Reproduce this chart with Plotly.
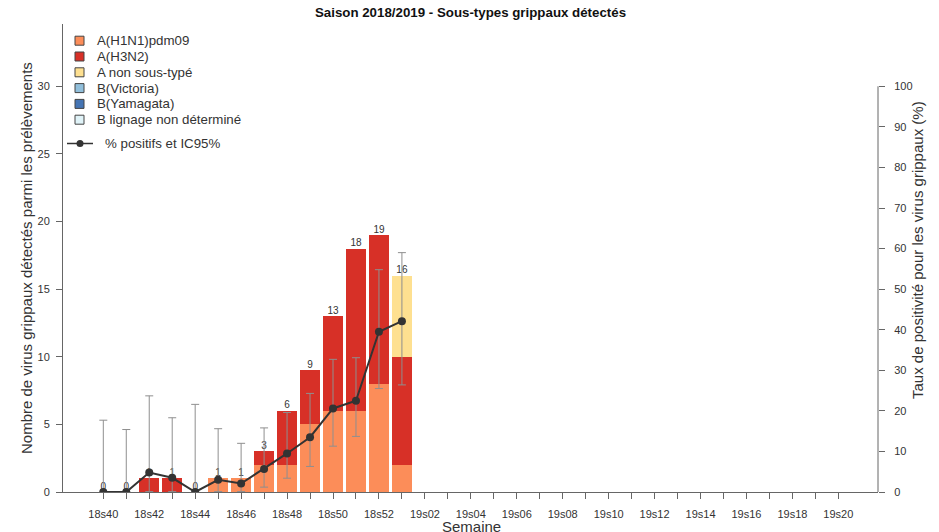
import plotly.graph_objects as go

# ---------------- data ----------------
weeks = [f"18s{w}" for w in range(40, 53)] + [f"19s{w:02d}" for w in range(1, 21)]
tick_labels = [w if i % 2 == 0 else "" for i, w in enumerate(weeks)]

n_obs = 14  # weeks with data (18s40 .. 19s01)
h1n1 = [0, 0, 0, 0, 0, 1, 1, 2, 2, 5, 6, 6, 8, 2]
h3n2 = [0, 0, 1, 1, 0, 0, 0, 1, 4, 4, 7, 12, 11, 8]
a_nst = [0, 0, 0, 0, 0, 0, 0, 0, 0, 0, 0, 0, 0, 6]
b_vic = [0] * 14
b_yam = [0] * 14
b_nd = [0] * 14
totals = [0, 0, 1, 1, 0, 1, 1, 3, 6, 9, 13, 18, 19, 16]

pct_pos = [0, 0, 4.8, 3.5, 0, 3.0, 2.1, 5.7, 9.5, 13.5, 20.6, 22.5, 39.5, 42.1]
ci_low = [0, 0, 0.1, 0.1, 0, 0.1, 0.1, 1.2, 3.4, 6.3, 11.3, 13.7, 25.5, 26.4]
ci_high = [17.7, 15.4, 23.7, 18.3, 21.6, 15.6, 12.0, 15.8, 19.6, 24.3, 32.7, 33.1, 54.8, 59.0]

series_names = ["A(H1N1)pdm09", "A(H3N2)", "A non sous-typé", "B(Victoria)",
                "B(Yamagata)", "B lignage non déterminé"]
series_values = [h1n1, h3n2, a_nst, b_vic, b_yam, b_nd]
series_colors = ["#FC8D59", "#D73027", "#FEE090", "#91BFDB", "#4575B4", "#E0F3F8"]
line_name = "% positifs et IC95%"

# ---------------- layout geometry ----------------
W, H = 939, 532
ML, MR, MT, MB = 63, 61, 24, 40
PW, PH = W - ML - MR, H - MT - MB
FONT = "Liberation Sans, Arial, Helvetica, sans-serif"
AXIS_COL = "#666666"
TXT_COL = "#333333"


def px_x(px):
    return (px - ML) / PW


def px_y(py):
    return (H - MB - py) / PH


fig = go.Figure()

x_obs = weeks[:n_obs]
for name, vals, col in zip(series_names, series_values, series_colors):
    fig.add_trace(go.Bar(x=x_obs, y=vals, name=name, marker=dict(color=col, line=dict(width=0)),
                         showlegend=False, yaxis="y"))

# count labels above bars
fig.add_trace(go.Scatter(x=x_obs, y=totals, mode="text", text=[str(t) for t in totals],
                         textposition="top center", textfont=dict(size=10, color=TXT_COL, family=FONT),
                         showlegend=False, hoverinfo="skip", yaxis="y"))

# confidence intervals
fig.add_trace(go.Scatter(
    x=x_obs, y=pct_pos, mode="markers", marker=dict(size=1, opacity=0), yaxis="y2",
    showlegend=False, hoverinfo="skip",
    error_y=dict(type="data", symmetric=False,
                 array=[h - p for h, p in zip(ci_high, pct_pos)],
                 arrayminus=[p - l for p, l in zip(pct_pos, ci_low)],
                 color="#8f8f8f", thickness=1, width=4)))

# positivity line
fig.add_trace(go.Scatter(x=x_obs, y=pct_pos, mode="lines+markers", name=line_name, yaxis="y2",
                         line=dict(color="#333333", width=2),
                         marker=dict(color="#333333", size=8), showlegend=False))

# ---------------- manual legend ----------------
shapes = []
annotations = []
leg_y0 = 40.7
leg_dy = 15.8
LEG_FS = 13.3
for i, (name, col) in enumerate(zip(series_names, series_colors)):
    cy = leg_y0 + i * leg_dy
    shapes.append(dict(type="rect", xref="paper", yref="paper",
                       x0=px_x(75), x1=px_x(84), y0=px_y(cy - 4.5), y1=px_y(cy + 4.5),
                       fillcolor=col, line=dict(color="#444444", width=1)))
    annotations.append(dict(xref="paper", yref="paper", x=px_x(95), y=px_y(cy), text=name,
                            showarrow=False, xanchor="left", yanchor="middle",
                            font=dict(size=LEG_FS, color=TXT_COL, family=FONT)))
cy = 143.5
shapes.append(dict(type="line", xref="paper", yref="paper", x0=px_x(67), x1=px_x(93),
                   y0=px_y(cy), y1=px_y(cy), line=dict(color="#333333", width=1.5)))
shapes.append(dict(type="circle", xref="paper", yref="paper", x0=px_x(76.5), x1=px_x(83.5),
                   y0=px_y(cy - 3.5), y1=px_y(cy + 3.5), fillcolor="#333333", line=dict(width=0)))
annotations.append(dict(xref="paper", yref="paper", x=px_x(103), y=px_y(cy), text=line_name,
                        showarrow=False, xanchor="left", yanchor="middle",
                        font=dict(size=LEG_FS, color=TXT_COL, family=FONT)))

# right axis line only 0..100
shapes.append(dict(type="line", xref="paper", yref="y2", x0=1, x1=1, y0=0, y1=100,
                   line=dict(color=AXIS_COL, width=1)))

# axis titles
TITLE_FS = 15
annotations.append(dict(xref="paper", yref="paper", x=px_x(471), y=px_y(526), text="Semaine",
                        showarrow=False, xanchor="center", yanchor="middle",
                        font=dict(size=TITLE_FS, color=TXT_COL, family=FONT)))
annotations.append(dict(xref="paper", yref="paper", x=px_x(26), y=px_y(258),
                        text="Nombre de virus grippaux détectés parmi les prélèvements",
                        textangle=-90, showarrow=False, xanchor="center", yanchor="middle",
                        font=dict(size=TITLE_FS, color=TXT_COL, family=FONT)))
annotations.append(dict(xref="paper", yref="paper", x=px_x(918), y=px_y(250),
                        text="Taux de positivité pour les virus grippaux (%)",
                        textangle=-90, showarrow=False, xanchor="center", yanchor="middle",
                        font=dict(size=TITLE_FS, color=TXT_COL, family=FONT)))

spacing = 22.97
x_lo = -(103.3 - ML) / spacing
x_hi = x_lo + PW / spacing

fig.update_layout(
    width=W, height=H,
    margin=dict(l=ML, r=MR, t=MT, b=MB, pad=0),
    paper_bgcolor="white", plot_bgcolor="white",
    barmode="stack", bargap=0.13,
    showlegend=False,
    font=dict(family=FONT, size=11, color=TXT_COL),
    title=dict(text="<b>Saison 2018/2019 - Sous-types grippaux détectés</b>",
               x=0.5, xref="paper", y=1 - 12 / H, yanchor="middle",
               font=dict(size=13.3, color="#111111", family=FONT)),
    xaxis=dict(type="category", categoryorder="array", categoryarray=weeks,
               tickvals=weeks, ticktext=tick_labels, range=[x_lo, x_hi],
               showline=True, linecolor=AXIS_COL, linewidth=1,
               ticks="outside", ticklen=6, tickcolor=AXIS_COL, tickwidth=1,
               showgrid=False, zeroline=False, tickangle=0, ticklabelstandoff=6,
               tickfont=dict(size=11, color=TXT_COL, family=FONT)),
    yaxis=dict(range=[0, (H - MB - MT) / 13.523], tickvals=[0, 5, 10, 15, 20, 25, 30],
               showline=True, linecolor=AXIS_COL, linewidth=1,
               ticks="outside", ticklen=6, tickcolor=AXIS_COL, tickwidth=1,
               showgrid=False, zeroline=False, ticklabelstandoff=4,
               tickfont=dict(size=11, color=TXT_COL, family=FONT)),
    yaxis2=dict(range=[0, (H - MB - MT) / 4.057], tickvals=list(range(0, 101, 10)),
                overlaying="y", side="right", anchor="x",
                showline=False, ticks="outside", ticklen=6, tickcolor=AXIS_COL, tickwidth=1,
                showgrid=False, zeroline=False, ticklabelstandoff=7,
                tickfont=dict(size=11, color=TXT_COL, family=FONT)),
    shapes=shapes, annotations=annotations,
)

fig.write_html("out.html", config={"displayModeBar": False},
               post_script="document.body.style.margin='0';document.body.style.padding='0';"
                           "document.body.style.overflow='hidden';")
